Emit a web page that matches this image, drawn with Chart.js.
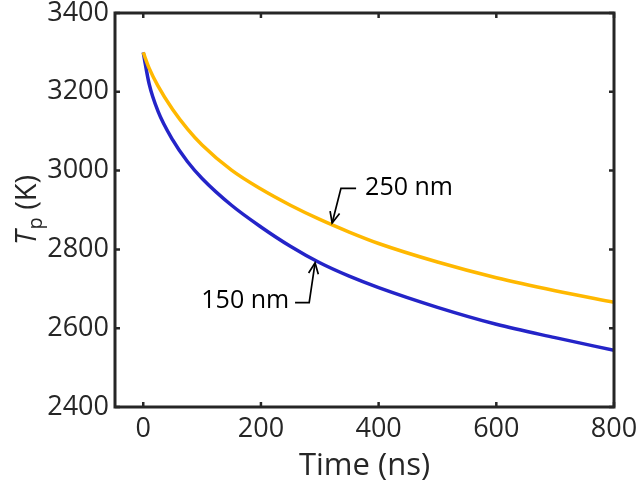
<!DOCTYPE html>
<html>
<head>
<meta charset="utf-8">
<script src="https://cdn.jsdelivr.net/npm/chart.js@4.4.1/dist/chart.umd.min.js"></script>
<style>
  html, body { margin: 0; padding: 0; background: #ffffff; }
  #wrap { width: 641px; height: 491px; }
</style>
</head>
<body>
<div id="wrap"><canvas id="c" width="641" height="491"></canvas></div>
<script>
// ---- data ----
const timeNs   = [0, 10, 25, 50, 75, 100, 150, 200, 250, 300, 350, 400, 500, 600, 700, 800];
const temp250  = [3300, 3260, 3215, 3155, 3106, 3065, 3001, 2953, 2912, 2876, 2844, 2815, 2768, 2728, 2695, 2666];
const temp150  = [3300, 3220, 3151, 3078, 3023, 2980, 2912, 2857, 2808, 2766, 2732, 2703, 2653, 2610, 2576, 2544];
const seriesNames = ['250 nm', '150 nm'];
const xTicks = [0, 200, 400, 600, 800];
const yTicks = [2400, 2600, 2800, 3000, 3200, 3400];
// annotation anchors (data units): text position, elbow, arrow tip
const annot250 = { text: [377, 2956], elbow: [336, 2955], tip: [321, 2867] };
const annot150 = { text: [248, 2669], end: [258, 2665], elbow: [282, 2665], tip: [292, 2766] };

const COLOR_250 = '#FFB800';
const COLOR_150 = '#2424C8';
const INK = '#262626';
const FONT = '"Open Sans", "DejaVu Sans", sans-serif';

function pts(xs, ys) { return xs.map((x, i) => ({ x: x, y: ys[i] })); }

const framePlugin = {
  id: 'frame',
  afterDraw(chart) {
    const { ctx, chartArea: a, scales } = chart;
    const xs = scales.x, ys = scales.y;
    ctx.save();
    // box frame
    ctx.strokeStyle = INK;
    ctx.lineWidth = 3;
    ctx.lineJoin = 'miter';
    ctx.strokeRect(a.left, a.top, a.right - a.left, a.bottom - a.top);
    // inward ticks on all four sides
    ctx.lineWidth = 2.5;
    const tl = 5;
    ctx.beginPath();
    xTicks.forEach(v => {
      const px = xs.getPixelForValue(v);
      ctx.moveTo(px, a.bottom); ctx.lineTo(px, a.bottom - tl);
      ctx.moveTo(px, a.top); ctx.lineTo(px, a.top + tl);
    });
    yTicks.forEach(v => {
      const py = ys.getPixelForValue(v);
      ctx.moveTo(a.left, py); ctx.lineTo(a.left + tl, py);
      ctx.moveTo(a.right, py); ctx.lineTo(a.right - tl, py);
    });
    ctx.stroke();

    // annotations
    const P = (d) => [xs.getPixelForValue(d[0]), ys.getPixelForValue(d[1])];
    function arrowHead(from, tip) {
      const ang = Math.atan2(tip[1] - from[1], tip[0] - from[0]);
      const L = 12, w = 0.42;
      ctx.beginPath();
      ctx.moveTo(tip[0] - L * Math.cos(ang - w), tip[1] - L * Math.sin(ang - w));
      ctx.lineTo(tip[0], tip[1]);
      ctx.lineTo(tip[0] - L * Math.cos(ang + w), tip[1] - L * Math.sin(ang + w));
      ctx.stroke();
    }
    ctx.strokeStyle = '#000000';
    ctx.lineWidth = 1.7;
    ctx.lineCap = 'butt';
    // 250 nm
    {
      const e = P(annot250.elbow), t = P(annot250.tip), tx = P(annot250.text);
      ctx.beginPath();
      ctx.moveTo(tx[0] - 9, e[1]);
      ctx.lineTo(e[0], e[1]);
      ctx.lineTo(t[0], t[1]);
      ctx.stroke();
      arrowHead(e, t);
      ctx.fillStyle = '#000000';
      ctx.font = '25px ' + FONT;
      ctx.textAlign = 'left';
      ctx.textBaseline = 'middle';
      ctx.fillText(seriesNames[0], tx[0], tx[1]);
    }
    // 150 nm
    {
      const s = P(annot150.end), e = P(annot150.elbow), t = P(annot150.tip), tx = P(annot150.text);
      ctx.beginPath();
      ctx.moveTo(s[0], s[1]);
      ctx.lineTo(e[0], e[1]);
      ctx.lineTo(t[0], t[1]);
      ctx.stroke();
      arrowHead(e, t);
      ctx.fillStyle = '#000000';
      ctx.font = '25px ' + FONT;
      ctx.textAlign = 'right';
      ctx.textBaseline = 'middle';
      ctx.fillText(seriesNames[1], tx[0], tx[1]);
    }

    // y-axis title: T (italic) with subscript p, then " (K)"
    ctx.fillStyle = INK;
    ctx.translate(36, (a.top + a.bottom) / 2);
    ctx.rotate(-Math.PI / 2);
    ctx.textBaseline = 'alphabetic';
    ctx.textAlign = 'left';
    const fMain = '29px ' + FONT, fIt = 'italic 29px ' + FONT, fSub = '20px ' + FONT;
    ctx.font = fIt; const wT = ctx.measureText('T').width;
    ctx.font = fSub; const wP = ctx.measureText('p').width;
    ctx.font = fMain; const wK = ctx.measureText(' (K)').width;
    let x0 = -(wT + wP + 1 + wK) / 2;
    ctx.font = fIt; ctx.fillText('T', x0, 0); x0 += wT + 1;
    ctx.font = fSub; ctx.fillText('p', x0, 6); x0 += wP;
    ctx.font = fMain; ctx.fillText(' (K)', x0, 0);
    ctx.restore();
  }
};

function fixPad(s) { s.paddingTop = 0; s.paddingBottom = 0; s.paddingLeft = 0; s.paddingRight = 0; }

new Chart(document.getElementById('c'), {
  type: 'line',
  data: {
    datasets: [
      { label: seriesNames[0], data: pts(timeNs, temp250), borderColor: COLOR_250, borderWidth: 3.5,
        pointRadius: 0, cubicInterpolationMode: 'monotone', fill: false },
      { label: seriesNames[1], data: pts(timeNs, temp150), borderColor: COLOR_150, borderWidth: 3.5,
        pointRadius: 0, cubicInterpolationMode: 'monotone', fill: false }
    ]
  },
  options: {
    responsive: false,
    animation: false,
    events: [],
    layout: { padding: { top: 13, right: 27, left: 0, bottom: 0 } },
    plugins: { legend: { display: false }, tooltip: { enabled: false } },
    scales: {
      x: {
        type: 'linear', min: -48, max: 800,
        afterBuildTicks(s) { s.ticks = xTicks.map(v => ({ value: v })); },
        afterFit(s) { s.height = 84; fixPad(s); },
        grid: { display: false, drawTicks: false },
        border: { display: false },
        ticks: { color: INK, font: { family: FONT, size: 27 }, padding: 6, maxRotation: 0, autoSkip: false,
                 callback: (v) => String(v) },
        title: { display: true, text: 'Time (ns)', color: INK, font: { family: FONT, size: 31 }, padding: { top: 0, bottom: 6 } }
      },
      y: {
        type: 'linear', min: 2400, max: 3400,
        afterBuildTicks(s) { s.ticks = yTicks.map(v => ({ value: v })); },
        afterFit(s) { s.width = 115; fixPad(s); },
        grid: { display: false, drawTicks: false },
        border: { display: false },
        ticks: { color: INK, font: { family: FONT, size: 27 }, padding: 6, autoSkip: false,
                 callback: (v) => String(v) }
      }
    }
  },
  plugins: [framePlugin]
});
</script>
</body>
</html>
